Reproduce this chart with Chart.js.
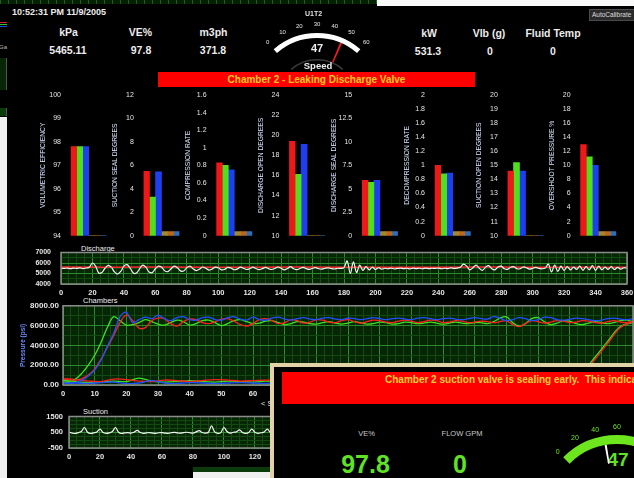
<!DOCTYPE html>
<html>
<head>
<meta charset="utf-8">
<title>Pump monitor</title>
<script src="https://cdn.jsdelivr.net/npm/chart.js@4.4.1/dist/chart.umd.min.js"></script>
<style>
  html, body { margin: 0; padding: 0; }
  body { width: 634px; height: 478px; overflow: hidden; position: relative; background: #000;
         font-family: "Liberation Sans", Arial, sans-serif; color: #ececec; }
  .abs { position: absolute; white-space: pre; }
  .c { transform: translate(-50%, -50%); }
  .hd { font-size: 10.5px; font-weight: bold; }
  .sec { font-size: 7.5px; color: #eeeeee; transform: translateY(-50%); }
  canvas { position: absolute; }
</style>
</head>
<body>
<!-- windows peeking out behind the main screen -->
<div class="abs" style="left:0;top:0;width:377px;height:4px;background:#052005;background-image:repeating-linear-gradient(90deg,#1d5e1d 0 1px,transparent 1px 8px);"></div>
<div class="abs" style="left:377px;top:0;width:257px;height:6px;background:#fafafa;"></div>
<div class="abs" style="left:0;top:117px;width:7px;height:361px;background:#f0f0f0;"></div>
<div class="abs" style="left:0;top:22px;width:7px;height:1px;background:#e02020;"></div>
<div class="abs" style="left:0;top:24px;width:7px;height:1px;background:#30c030;"></div>
<div class="abs" style="left:0;top:26px;width:7px;height:1px;background:#2040e0;"></div>
<div class="abs" style="left:-1px;top:44px;font-size:6px;color:#bbbbbb;">Ga</div>
<div class="abs" style="left:0;top:58px;width:6px;height:32px;background:#062606;border-right:1px solid #555;"></div>
<div class="abs" style="left:0;top:108px;width:6px;height:8px;background:#0b3a0b;border-right:1px solid #555;"></div>
<div class="abs" style="left:589px;top:9px;width:50px;height:10px;background:#2b2b2b;border:1px solid #4a4a4a;font-size:6.5px;line-height:10px;color:#dddddd;padding-left:2px;">AutoCalibrate</div>

<!-- header readouts -->
<div class="abs" style="left:12px;top:7px;font-size:9px;font-weight:bold;">10:52:31 PM 11/9/2005</div>
<div class="abs c hd" style="left:68.5px;top:32px;">kPa</div>
<div class="abs c hd" style="left:140.5px;top:32px;">VE%</div>
<div class="abs c hd" style="left:213.5px;top:32px;">m3ph</div>
<div class="abs c hd" style="left:429px;top:33px;">kW</div>
<div class="abs c hd" style="left:489px;top:33px;">Vlb (g)</div>
<div class="abs c hd" style="left:553px;top:33px;">Fluid Temp</div>
<div class="abs c hd" style="left:68px;top:50px;">5465.11</div>
<div class="abs c hd" style="left:141px;top:50px;">97.8</div>
<div class="abs c hd" style="left:213px;top:50px;">371.8</div>
<div class="abs c hd" style="left:428px;top:51px;">531.3</div>
<div class="abs c hd" style="left:490px;top:51px;">0</div>
<div class="abs c hd" style="left:553px;top:51px;">0</div>

<div class="abs" style="left:158px;top:72px;width:317px;height:15px;background:#ff0000;color:#ffc81e;font-size:10px;font-weight:bold;line-height:15px;text-align:center;">Chamber 2 - Leaking Discharge Valve</div>

<div class="abs sec" style="left:81px;top:247.5px;">Discharge</div>
<div class="abs sec" style="left:83px;top:300px;">Chambers</div>
<div class="abs sec" style="left:83px;top:411px;">Suction</div>
<div class="abs sec" style="left:261px;top:403px;">&lt; S</div>
<div class="abs" style="left:193px;top:467px;width:79px;height:11px;background:linear-gradient(#0b3a0b 0 5px,#f0f0f0 5px);"></div>

<div id="charts"></div>

<!-- alarm popup -->
<div class="abs" style="left:270px;top:363px;width:400px;height:130px;background:#000;border-left:4px solid #e2d2a8;border-top:4px solid #e2d2a8;z-index:5;"></div>
<div class="abs" style="left:282px;top:371.5px;width:360px;height:32px;background:#ff0000;z-index:6;"></div>
<div class="abs" style="left:385px;top:374px;font-size:10px;font-weight:bold;color:#ffcf3a;z-index:6;">Chamber 2 suction valve is sealing early.  This indicates</div>
<div class="abs c" style="left:366.5px;top:433px;font-size:7.5px;color:#c8c8c8;z-index:6;">VE%</div>
<div class="abs c" style="left:462px;top:433px;font-size:7.5px;color:#c8c8c8;z-index:6;">FLOW GPM</div>
<div class="abs c" style="left:365.5px;top:464px;font-size:25px;font-weight:bold;color:#5fe322;z-index:6;">97.8</div>
<div class="abs c" style="left:460px;top:464px;font-size:25px;font-weight:bold;color:#5fe322;z-index:6;">0</div>
<div class="abs c" style="left:618px;top:460px;font-size:19px;font-weight:bold;color:#5fe322;z-index:6;">47</div>
<div class="abs c" style="left:617px;top:484px;font-size:12px;font-weight:bold;color:#e8e8e8;z-index:6;">Speed</div>

<!-- top gauge captions -->
<div class="abs c" style="left:313.5px;top:13px;font-size:7px;font-weight:bold;color:#e0e0e0;z-index:3;">U1T2</div>
<div class="abs c" style="left:317px;top:48px;font-size:11px;font-weight:bold;z-index:3;">47</div>
<div class="abs c" style="left:318px;top:64.5px;font-size:9.5px;font-weight:bold;z-index:3;">Speed</div>

<script>
// ---- bar panels: one panel per measurement, three chambers each ----
const panelTitles = ['VOLUMETRIC EFFICIENCY', 'SUCTION SEAL DEGREES', 'COMPRESSION RATE', 'DISCHARGE OPEN DEGREES',
                     'DISCHARGE SEAL DEGREES', 'DECOMPRESSION RATE', 'SUCTION OPEN DEGREES', 'OVERSHOOT PRESSURE %'];
const axisMin  = [94, 0, 0, 10, 0, 0, 10, 0];
const axisMax  = [100, 12, 1.6, 24, 15, 2, 20, 20];
const axisStep = [1, 2, 0.2, 2, 2.5, 0.2, 1, 2];
const chamber1 = [97.8, 5.5, 0.83, 19.4, 5.9, 1.0, 14.6, 12.95];
const chamber2 = [97.8, 3.3, 0.80, 16.1, 5.7, 0.88, 15.2, 11.2];
const chamber3 = [97.8, 5.45, 0.75, 19.1, 5.9, 0.89, 14.6, 10.0];
const spareChambers = [94, 0, 0, 10, 0, 0, 10, 0];

// ---- discharge pressure, sampled every 2 degrees 0..360 ----
const dischargeTrace = [
  5500,5480,5520,5470,5510,5490,5530,5460,5520,5600,
  6000,5700,5050,5100,5500,5780,5600,5150,4950,5200,
  5700,5840,5500,5050,5050,5450,5800,5600,5150,5080,
  5450,5700,5600,5250,5180,5450,5700,5550,5250,5240,
  5550,5700,5450,5280,5400,5620,5500,5330,5400,5600,
  5550,5350,5380,5580,5520,5360,5420,5600,5500,5380,
  5450,5600,5480,5370,5460,5580,5470,5380,5480,5620,
  5500,5350,5470,5650,5450,5360,5480,5580,5460,5400,
  5500,5560,5450,5420,5500,5540,5460,5430,5500,5480,
  5550,6200,5000,6100,5100,5800,5300,5650,5350,5600,
  5400,5550,5420,5500,5450,5520,5430,5480,5520,5460,
  5500,5440,5510,5470,5500,5450,5520,5460,5500,5480,
  5520,5450,5500,5470,5540,5480,5520,5600,5900,5700,
  5350,5550,5800,5500,5300,5600,5750,5450,5350,5620,
  5700,5450,5400,5600,5650,5450,5450,5620,5550,5420,
  5500,5580,5480,5450,5520,5900,5150,5800,5200,5700,
  5300,5650,5350,5600,5400,5700,5300,5650,5350,5750,
  5300,5700,5350,5600,5400,5650,5380,5580,5420,5550,
  5500
];
// setpoint line, every 30 degrees
const dischargeSetpoint = [5620,5600,5610,5590,5600,5610,5600,5590,5600,5610,5600,5590,5600];

// ---- chamber pressure (psi), high side every 2 deg, low side every 4 deg ----
const chamberRedHigh = [
  600,550,500,650,1000,1600,2600,3800,5000,6300,
  7050,6500,5750,5800,6500,6750,6700,6200,5950,6400,
  6650,6600,6300,6200,6400,6650,6700,6450,6100,5950,
  6200,6600,6700,6500,6200,6300,6600,6500,6250,6350,
  6600,6550,6350,6300,6500,6600,6400,6250,6400,6550,
  6500,6350,6300,6450,6550,6450,6300,6400,6550,6500,
  6300,6350,6500,6450,6300,6350,6450,6400,6300,6400,
  6500,6100,5900,6200,6500,6400,6250,6350,6500,6450,
  6300,6350,6500,6450,6300,6250,6400,6500,6350,6300,
  6450
];
const chamberGreenHigh = [
  300,350,600,1200,2000,3000,4300,5800,6900,6500,
  6050,6100,6300,6600,6400,6150,6050,6300,6550,6400,
  6050,6200,6500,6550,6300,6000,6200,6500,6600,6400,
  6200,6250,6450,6500,6300,6100,6200,6400,6350,6200,
  6150,6300,6400,6250,6150,6250,6400,6300,6150,6200,
  6350,6300,6150,6200,6350,6300,6200,6250,6350,6250,
  6150,6250,6350,6250,6200,6300,6300,6200,6400,6750,
  6900,6300,5950,6200,6700,6800,6400,6100,6250,6500,
  6450,6200,6100,6250,6400,6300,6200,6300,6500,6550,
  6400
];
const chamberBlueHigh = [
  200,150,250,500,900,1500,2500,3900,5200,6900,
  7350,6300,6600,6850,6700,7050,6700,6500,6800,6900,
  6600,6550,6800,6850,6600,6550,6800,6900,6650,6550,
  6850,6600,6550,6750,6850,6650,6550,6700,6800,6650,
  6600,6750,6800,6650,6600,6750,6700,6600,6700,6800,
  6700,6600,6700,6750,6650,6600,6750,6800,6700,6600,
  6700,6750,6650,6600,6700,6800,6700,6650,6900,6750,
  6500,6600,6800,6700,6500,6600,6850,6800,6600,6550,
  6650,6750,6700,6600,6500,6550,6700,6750,6650,6600,
  6700
];
const chamberRedLow = [
  650,550,400,350,600,550,400,350,500,450,
  350,450,550,500,400,450,500,450,400,450,
  500,400,450,500,450,400,450,500,450,400,
  450,500,450,400,450,500,450,400,450,500,
  450,1100,2600,4200,5800,6400
];
const chamberGreenLow = [
  500,350,250,300,400,350,700,400,300,350,
  450,350,300,400,350,300,400,350,300,350,
  400,350,300,350,400,350,300,350,400,350,
  300,350,400,350,300,350,400,350,300,350,
  400,1300,2800,4400,5900,6300
];
const chamberBlueLow = [
  250,200,150,250,300,150,200,450,200,150,
  250,200,150,200,250,200,150,200,250,200,
  150,200,250,200,150,200,250,200,150,200,
  250,200,150,200,250,200,150,200,250,200,
  200,250,200,150,200,250
];

// ---- suction pressure, every 2 degrees (the rest sits behind the popup) ----
const suctionTrace = [
  500,450,420,480,550,800,500,420,460,520,
  700,480,430,460,550,800,500,420,460,480,
  450,500,620,480,430,460,480,450,430,470,
  480,450,430,470,490,460,440,480,500,470,
  450,520,600,480,440,500,900,520,430,480,
  800,550,440,500,520,650,480,430,480,700,
  500,430,470,520,700,480,430,500,550,480,
  500
];

// ---- speed gauges ----
const speedValue = 47;
const topGaugeMax = 60;
const topGaugeTicks = [0, 10, 20, 30, 40, 50, 60];
const popupGaugeMax = 120;
const popupGaugeTicks = [0, 20, 40, 60, 80, 100, 120];

Chart.defaults.font.family = "'Liberation Sans', Arial, sans-serif";
Chart.defaults.color = '#e8e8e8';
Chart.defaults.animation = false;

const plotBackdrop = {
  id: 'plotBackdrop',
  beforeDraw(chart, args, opts) {
    if (!opts.fill) return;
    const { ctx, chartArea: a } = chart;
    ctx.save();
    ctx.fillStyle = opts.fill;
    ctx.fillRect(a.left, a.top, a.width, a.height);
    ctx.restore();
  },
  afterDraw(chart, args, opts) {
    if (!opts.edge) return;
    const { ctx, chartArea: a } = chart;
    ctx.save();
    ctx.strokeStyle = opts.edge;
    ctx.lineWidth = 1.5;
    ctx.strokeRect(a.left, a.top, a.width, a.height);
    ctx.restore();
  }
};

// numbers round the dial, placed from the arc the library drew
const gaugeDial = {
  id: 'gaugeDial',
  afterDatasetsDraw(chart, args, opts) {
    if (!opts.ticks) return;
    const arc = chart.getDatasetMeta(0).data[0];
    const start = (chart.options.rotation - 90) * Math.PI / 180;
    const sweep = chart.options.circumference * Math.PI / 180;
    const ctx = chart.ctx;
    ctx.save();
    ctx.fillStyle = opts.color;
    ctx.font = opts.font;
    ctx.textAlign = 'center';
    ctx.textBaseline = 'middle';
    opts.ticks.forEach(t => {
      const a = start + sweep * t / opts.max;
      const r = arc.outerRadius + opts.gap;
      ctx.fillText(String(t), arc.x + Math.cos(a) * r, arc.y + Math.sin(a) * r);
    });
    ctx.restore();
  }
};
Chart.register(plotBackdrop, gaugeDial);

function makeCanvas(left, top, width, height, z) {
  const c = document.createElement('canvas');
  c.width = width;
  c.height = height;
  c.style.left = left + 'px';
  c.style.top = top + 'px';
  if (z) c.style.zIndex = z;
  document.getElementById('charts').appendChild(c);
  return c;
}

function stepsFrom(start, step, count) {
  return Array.from({ length: count }, (_, i) => start + i * step);
}
function pairs(xs, ys) {
  return ys.map((y, i) => ({ x: xs[i], y: y }));
}
function onMajor(v, base, major) {
  const k = (v - base) / major;
  return Math.abs(k - Math.round(k)) < 1e-6;
}

// --- bar panels ---
for (let i = 0; i < panelTitles.length; i++) {
  const plotLeft = 70.7 + 72.8 * i;
  const canvasLeft = Math.round(plotLeft - 33.7);
  const axisWidth = plotLeft - canvasLeft;
  const titleCenter = plotLeft - 28 - canvasLeft;
  new Chart(makeCanvas(canvasLeft, 88, 72, 154), {
    type: 'bar',
    data: {
      labels: [''],
      datasets: [
        { data: [chamber1[i]], backgroundColor: '#ef1818' },
        { data: [chamber2[i]], backgroundColor: '#4fe01a' },
        { data: [chamber3[i]], backgroundColor: '#1c3ff0' },
        { data: [spareChambers[i]], backgroundColor: '#a08a30', minBarLength: 4 },
        { data: [spareChambers[i]], backgroundColor: '#c0661c', minBarLength: 4 },
        { data: [spareChambers[i]], backgroundColor: '#2f6fb8', minBarLength: 4 }
      ]
    },
    options: {
      responsive: false,
      events: [],
      layout: { padding: { top: 7, bottom: 6.3, left: 0, right: 72 - axisWidth - 36 } },
      plugins: { legend: { display: false }, tooltip: { enabled: false } },
      datasets: { bar: { categoryPercentage: 1, barPercentage: 1, borderWidth: 0 } },
      scales: {
        x: { display: false },
        y: {
          min: axisMin[i], max: axisMax[i],
          afterFit: s => { s.width = axisWidth; },
          grid: { display: false, drawTicks: true, tickLength: 8 },
          border: { display: false },
          ticks: {
            stepSize: axisStep[i], autoSkip: false, padding: 1.7,
            color: '#e6e6e6', font: { size: 7 },
            callback: v => String(+v.toFixed(2))
          },
          title: {
            display: true, text: panelTitles[i], color: '#d8e4ff',
            font: { size: 6.7 }, padding: { top: titleCenter - 4, bottom: 0 }
          }
        }
      }
    }
  });
}

// --- strip charts ---
function traceChart(canvas, o) {
  const major = '#2c8a2c', minor = '#124a12';
  return new Chart(canvas, {
    type: 'line',
    data: { datasets: o.datasets },
    options: {
      responsive: false,
      events: [],
      layout: { padding: o.padding },
      plugins: {
        legend: { display: false }, tooltip: { enabled: false },
        plotBackdrop: { fill: '#062606', edge: '#8c8c8c' }
      },
      elements: { point: { radius: 0 }, line: { borderWidth: 1.3, tension: 0.35 } },
      scales: {
        x: {
          type: 'linear', min: o.x.min, max: o.x.max,
          border: { display: false },
          grid: {
            tickLength: 3, tickColor: 'rgba(0,0,0,0)',
            color: c => onMajor(c.tick.value, o.x.min, o.x.major) ? major : minor
          },
          ticks: {
            stepSize: o.x.step, autoSkip: false, maxRotation: 0, minRotation: 0, padding: 1,
            color: '#e6e6e6', font: { size: 7.5, weight: 'bold' },
            callback: v => onMajor(v, o.x.min, o.x.major) ? String(v) : ''
          }
        },
        y: {
          min: o.y.min, max: o.y.max,
          afterFit: s => { s.width = o.y.width; },
          border: { display: false },
          grid: {
            tickLength: o.y.gap, tickColor: 'rgba(0,0,0,0)',
            color: c => onMajor(c.tick.value, o.y.min, o.y.major) ? major : minor
          },
          ticks: {
            stepSize: o.y.step, autoSkip: false, padding: 1,
            color: '#e6e6e6', font: { size: o.y.size, weight: 'bold' },
            callback: v => onMajor(v, o.y.min, o.y.major) ? o.y.label(v) : ''
          },
          title: o.y.title || { display: false }
        }
      }
    }
  });
}

traceChart(makeCanvas(0, 244, 640, 54), {
  padding: { left: 0, right: 13, top: 8.5, bottom: 0 },
  x: { min: 0, max: 360, step: 5, major: 20 },
  y: { min: 4000, max: 7000, step: 500, major: 1000, width: 61, gap: 9, size: 7, label: v => String(v) },
  datasets: [
    { data: pairs(stepsFrom(0, 2, dischargeTrace.length), dischargeTrace), borderColor: '#f2f2f2', borderWidth: 1.2 },
    { data: pairs(stepsFrom(0, 30, dischargeSetpoint.length), dischargeSetpoint), borderColor: '#ff2a2a', borderWidth: 1.5, tension: 0 }
  ]
});

traceChart(makeCanvas(0, 300, 660, 99), {
  padding: { left: 0, right: 27, top: 5.5, bottom: 0 },
  x: { min: 0, max: 180, step: 2.5, major: 10 },
  y: {
    min: 0, max: 8000, step: 1000, major: 2000, width: 63, gap: 3, size: 8, label: v => v.toFixed(2),
    title: { display: true, text: 'Pressure (psi)', color: '#6d8cff', font: { size: 6.5, weight: 'bold' }, padding: { top: 19, bottom: 0 } }
  },
  datasets: [
    { data: pairs(stepsFrom(0, 2, chamberBlueHigh.length), chamberBlueHigh), borderColor: '#2050ff' },
    { data: pairs(stepsFrom(0, 2, chamberRedHigh.length), chamberRedHigh), borderColor: '#ff2020' },
    { data: pairs(stepsFrom(0, 2, chamberGreenHigh.length), chamberGreenHigh), borderColor: '#3ee020' },
    { data: pairs(stepsFrom(0, 4, chamberBlueLow.length), chamberBlueLow), borderColor: '#2050ff' },
    { data: pairs(stepsFrom(0, 4, chamberRedLow.length), chamberRedLow), borderColor: '#ff2020' },
    { data: pairs(stepsFrom(0, 4, chamberGreenLow.length), chamberGreenLow), borderColor: '#3ee020' }
  ]
});

traceChart(makeCanvas(0, 408, 634, 54), {
  padding: { left: 0, right: 4, top: 8.5, bottom: 0 },
  x: { min: 0, max: 360, step: 5, major: 20 },
  y: { min: -500, max: 1500, step: 250, major: 1000, width: 69, gap: 5, size: 7.5, label: v => String(v) },
  datasets: [
    { data: pairs(stepsFrom(0, 2, suctionTrace.length), suctionTrace), borderColor: '#f2f2f2', borderWidth: 1.2 }
  ]
});

// --- gauges ---
function gaugeChart(canvas, g) {
  const datasets = [
    { data: [g.max], backgroundColor: g.arcColor, weight: g.weights[0] },
    { data: [g.value - g.needle / 2, g.needle, g.max - g.value - g.needle / 2],
      backgroundColor: ['rgba(0,0,0,0)', g.needleColor, 'rgba(0,0,0,0)'], weight: g.weights[1] }
  ];
  if (g.rim) datasets.push({ data: [g.max], backgroundColor: g.rim, weight: g.weights[2] });
  return new Chart(canvas, {
    type: 'doughnut',
    data: { datasets: datasets },
    options: {
      responsive: false,
      events: [],
      rotation: -g.half, circumference: g.half * 2, cutout: g.cutout,
      elements: { arc: { borderWidth: 0 } },
      layout: { padding: g.padding },
      plugins: {
        legend: { display: false }, tooltip: { enabled: false },
        gaugeDial: { ticks: g.ticks, max: g.max, gap: g.gap, color: g.tickColor, font: g.tickFont }
      }
    }
  });
}

gaugeChart(makeCanvas(240, 15, 155, 60, 2), {
  max: topGaugeMax, value: speedValue, ticks: topGaugeTicks, needle: 1.4,
  half: 41, cutout: '58.3%', weights: [5, 21, 1.5],
  arcColor: '#ffffff', needleColor: '#ff1a1a', rim: '#3a3a3a',
  gap: 9, tickColor: '#e6e6e6', tickFont: '6px "Liberation Sans", Arial, sans-serif',
  padding: { left: 33.5, right: 34.5, top: 18, bottom: 5 }
});

gaugeChart(makeCanvas(530, 415, 180, 70, 7), {
  max: popupGaugeMax, value: speedValue, ticks: popupGaugeTicks, needle: 2.4,
  half: 45, cutout: '63.16%', weights: [9, 19],
  arcColor: '#6ee61e', needleColor: '#ffffff',
  gap: 8, tickColor: '#6ee61e', tickFont: '7px "Liberation Sans", Arial, sans-serif',
  padding: { left: 33.25, right: 39.25, top: 20, bottom: 7.94 }
});
</script>
</body>
</html>
